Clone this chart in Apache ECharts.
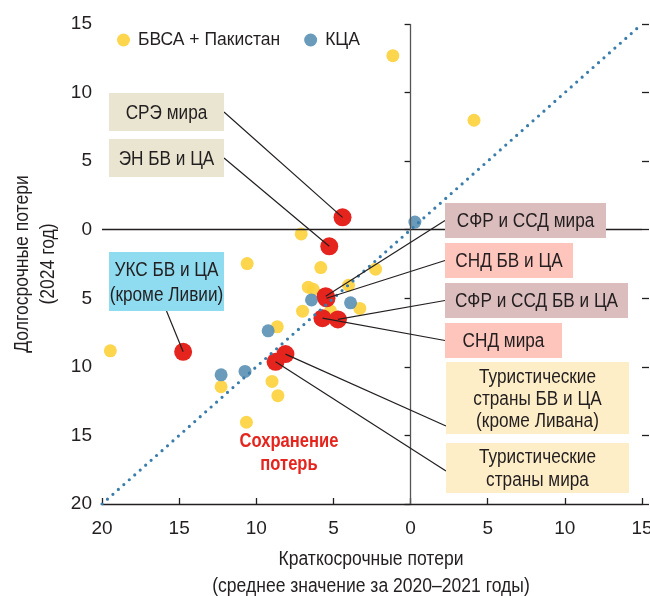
<!DOCTYPE html>
<html><head><meta charset="utf-8">
<script src="https://cdn.jsdelivr.net/npm/echarts@6/dist/echarts.min.js"></script>
<style>html,body{margin:0;padding:0;background:#fff}#c{width:650px;height:596px}</style>
</head><body><div id="c"></div>
<script>
const FONT = "'Liberation Sans',Arial,sans-serif";

// ---- data ----
const legendNames = ['БВСА + Пакистан', 'КЦА'];
const menapX = [-1.15, 4.11, -7.09, -10.59, -5.82, -2.27, -6.63, -6.31, -4.02, -3.29, -7.0, -5.19, -8.64, -19.46, -12.28, -8.98, -8.6, -10.64];
const menapY = [12.69, 7.98, -0.31, -2.47, -2.76, -2.88, -4.19, -4.34, -4.05, -5.74, -5.94, -5.92, -7.08, -8.83, -11.45, -11.06, -12.1, -14.04];
const ccaX = [0.28, -6.42, -3.89, -5.82, -9.23, -12.28, -10.73];
const ccaY = [0.56, -5.12, -5.33, -6.57, -7.37, -10.58, -10.33];
const groupNames = ['СРЭ мира', 'ЭН БВ и ЦА', 'УКС БВ и ЦА\n(кроме Ливии)', 'СФР и ССД мира', 'СНД БВ и ЦА',
  'СФР и ССД БВ и ЦА', 'СНД мира', 'Туристические\nстраны БВ и ЦА\n(кроме Ливана)', 'Туристические\nстраны мира'];
const groupX = [-4.41, -5.27, -14.74, -5.5, -5.45, -4.71, -5.71, -8.11, -8.75];
const groupY = [0.9, -1.21, -8.9, -4.85, -5.0, -6.54, -6.45, -9.07, -9.63];
const diagX = [-20, 15];
const diagY = [-20, 15];
const axisMin = -20, axisMax = 15, axisStep = 5;
const xTitle = 'Краткосрочные потери\n(среднее значение за 2020–2021 годы)';
const yTitle = 'Долгосрочные потери\n(2024 год)';
const persistText = 'Сохранение\nпотерь';

// ---- layout / style (not data) ----
const boxLayout = [
  {x:109, y:93,  w:115, h:38, bg:'#e9e5d0', lh:24, anchor:'right'},
  {x:109, y:139, w:115, h:38, bg:'#e9e5d0', lh:24, anchor:'right'},
  {x:109, y:252, w:115, h:59, bg:'#8fdcf0', lh:25, anchor:'bottom'},
  {x:445, y:203, w:161, h:35, bg:'#dcbdbd', lh:24, anchor:'left'},
  {x:445, y:243, w:128, h:35, bg:'#fdc5bb', lh:24, anchor:'left'},
  {x:445, y:283, w:183, h:35, bg:'#dcbdbd', lh:24, anchor:'left'},
  {x:445, y:323, w:117, h:35, bg:'#fdc5bb', lh:24, anchor:'left'},
  {x:446, y:362, w:183, h:72, bg:'#feeec7', lh:22, anchor:'left', ay:426},
  {x:446, y:443, w:183, h:50, bg:'#feeec7', lh:23, anchor:'left', ay:471}
];
const INK = '#231f20';
const NARROW = 0.86;
const zip = (a, b) => a.map((v, i) => [v, b[i]]);

const chart = echarts.init(document.getElementById('c'), null, {renderer: 'canvas'});
const absFmt = v => String(Math.abs(v));
chart.setOption({
  animation: false,
  textStyle: {fontFamily: FONT},
  grid: {left: 102, right: 8, top: 24, bottom: 92, containLabel: false, outerBoundsMode: 'none'},
  legend: {
    data: legendNames, left: 112, top: 26, icon: 'circle', itemWidth: 13, itemHeight: 13, itemGap: 24,
    textStyle: {fontSize: 17.5, color: INK, fontFamily: FONT, padding: [0, 0, 0, 3]}
  },
  xAxis: {
    type: 'value', min: axisMin, max: axisMax, interval: axisStep,
    axisLine: {show: true, onZero: false, lineStyle: {color: INK, width: 1.3}},
    axisTick: {show: true, inside: true, length: 6, lineStyle: {color: INK, width: 1.3}},
    axisLabel: {formatter: absFmt, fontSize: 19, color: INK, margin: 15, fontFamily: FONT},
    splitLine: {show: false}
  },
  yAxis: [{
    type: 'value', min: axisMin, max: axisMax, interval: axisStep, position: 'left',
    axisLine: {show: false},
    axisTick: {show: true, length: 6, lineStyle: {color: INK, width: 1.3}},
    axisLabel: {formatter: absFmt, fontSize: 19, color: INK, margin: 10, fontFamily: FONT},
    splitLine: {show: false}
  }, {
    type: 'value', min: axisMin, max: axisMax, interval: axisStep, position: 'right',
    axisLine: {show: false},
    axisTick: {show: true, length: 7, lineStyle: {color: INK, width: 1.3}},
    axisLabel: {show: false},
    splitLine: {show: false}
  }],
  series: [
    {
      name: legendNames[0], type: 'scatter', data: zip(menapX, menapY), symbolSize: 13, z: 2,
      itemStyle: {color: '#fdd23f', opacity: 0.92}
    },
    {
      name: legendNames[1], type: 'scatter', data: zip(ccaX, ccaY), symbolSize: 13, z: 3,
      itemStyle: {color: '#5d93b5', opacity: 0.92}
    },
    {
      name: 'groups', type: 'scatter', data: zip(groupX, groupY), symbolSize: 18, z: 3,
      itemStyle: {color: '#e5241d', opacity: 1}
    },
    {
      name: 'diag', type: 'line', data: zip(diagX, diagY), symbol: 'none', z: 5, silent: true,
      lineStyle: {color: '#3a7cab', width: 3.2, type: [0, 7.3], cap: 'round'},
      markLine: {
        silent: true, symbol: 'none', label: {show: false},
        data: [
          {yAxis: 0, lineStyle: {color: INK, width: 1.3, type: 'solid'}},
          {xAxis: 0, lineStyle: {color: '#555', width: 1.3, type: 'solid'}}
        ]
      }
    }
  ]
});

// ---- annotation boxes, leader lines and titles ----
const g = [];
g.push({type: 'text', x: 35, y: 264, rotation: Math.PI / 2, scaleX: 0.877, z: 10,
  style: {text: yTitle, font: '20px ' + FONT, fill: INK, align: 'center', verticalAlign: 'middle', lineHeight: 26}});
g.push({type: 'text', x: 371, y: 573, scaleX: 0.877, z: 10,
  style: {text: xTitle, font: '20px ' + FONT, fill: INK, align: 'center', verticalAlign: 'middle', lineHeight: 27}});
g.push({type: 'text', x: 289, y: 453, scaleX: 0.85, z: 10,
  style: {text: persistText, font: 'bold 19.5px ' + FONT, fill: '#e5241d', align: 'center', verticalAlign: 'middle', lineHeight: 23}});
boxLayout.forEach((b, i) => {
  g.push({type: 'rect', z: 8, shape: {x: b.x, y: b.y, width: b.w, height: b.h}, style: {fill: b.bg}});
  g.push({type: 'text', z: 9, x: b.x + b.w / 2, y: b.y + b.h / 2 + 1, scaleX: NARROW,
    style: {text: groupNames[i], font: '20px ' + FONT, fill: INK, align: 'center', verticalAlign: 'middle', lineHeight: b.lh}});
  const p = chart.convertToPixel({gridIndex: 0}, [groupX[i], groupY[i]]);
  let ax, ay;
  if (b.anchor === 'right') { ax = b.x + b.w; ay = b.y + b.h / 2; }
  else if (b.anchor === 'left') { ax = b.x; ay = b.ay || (b.y + b.h / 2); }
  else { ax = b.x + b.w / 2; ay = b.y + b.h; }
  g.push({type: 'line', z: 7, shape: {x1: ax, y1: ay, x2: p[0], y2: p[1]}, style: {stroke: INK, lineWidth: 1.2}});
});
chart.setOption({graphic: g});
</script>
</body></html>
